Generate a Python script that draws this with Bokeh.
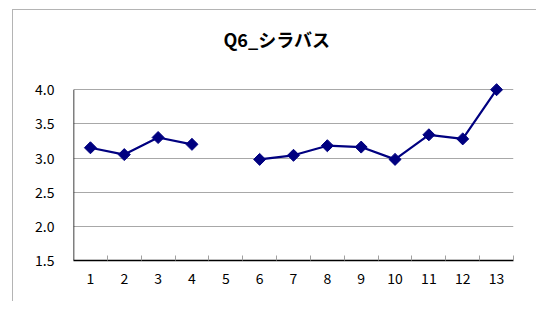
import numpy as np
from bokeh.plotting import figure
from bokeh.models import Range1d, FixedTicker, Title
from bokeh.embed import file_html
from bokeh.resources import INLINE

title_text = "Q6_シラバス"
categories = [1, 2, 3, 4, 5, 6, 7, 8, 9, 10, 11, 12, 13]
values = [3.15, 3.05, 3.30, 3.20, np.nan, 2.98, 3.04, 3.18, 3.16, 2.98, 3.34, 3.28, 4.00]
y_ticks = [1.5, 2.0, 2.5, 3.0, 3.5, 4.0]

FONT = "Noto Sans CJK JP"

p = figure(width=524, height=292, output_backend="svg", toolbar_location=None,
           x_range=Range1d(0.5, 13.5), y_range=Range1d(1.5, 4.12),
           min_border_left=60, min_border_right=24, min_border_top=71, min_border_bottom=42,
           title=title_text)
p.margin = (9, 0, 0, 12)
p.styles = {"border-left": "1px solid #b4b4b4", "border-top": "1px solid #b4b4b4"}
p.outline_line_color = None
p.background_fill_color = "white"
p.border_fill_color = "white"

p.title.align = "left"
p.title.offset = 150
p.title.text_font = FONT
p.title.text_font_style = "bold"
p.title.text_font_size = "18px"
p.title.text_color = "black"
p.title.standoff = 0

# invisible spacer between title and frame
p.add_layout(Title(text=" ", text_font_size="18px", standoff=8), "above")

# x axis
p.xaxis.ticker = FixedTicker(ticks=categories, minor_ticks=[c + 0.5 for c in categories])
p.xaxis.major_label_overrides = {c: str(c) for c in categories}
p.xaxis.major_tick_in = 0
p.xaxis.major_tick_out = 0
p.xaxis.minor_tick_in = 5
p.xaxis.minor_tick_out = 0
p.xaxis.minor_tick_line_color = "#a0a0a0"
p.xaxis.axis_line_color = "black"
p.xaxis.axis_line_width = 1.5
p.xaxis.major_label_standoff = 12
p.xaxis.major_label_text_font = FONT
p.xaxis.major_label_text_font_size = "14px"
p.xaxis.major_label_text_color = "black"
p.xgrid.grid_line_color = None

# y axis
p.yaxis.ticker = FixedTicker(ticks=y_ticks)
p.yaxis.major_label_overrides = {t: f"{t:.1f}" for t in y_ticks}
p.yaxis.major_tick_in = 0
p.yaxis.major_tick_out = 0
p.yaxis.minor_tick_line_color = None
p.yaxis.axis_line_color = None
p.yaxis.major_label_standoff = 19
p.yaxis.major_label_text_font = FONT
p.yaxis.major_label_text_font_size = "14px"
p.yaxis.major_label_text_color = "black"
p.ygrid.grid_line_color = "#a8a8a8"
p.ygrid.grid_line_width = 1.2

# left axis line only from 1.5 to 4.0
p.line([0.5, 0.5], [y_ticks[0], y_ticks[-1]], line_color="black", line_width=1.5)

p.line(categories, values, line_color="#000080", line_width=2.2)
p.scatter(categories, values, marker="square", angle=np.pi / 4, size=8.5,
          fill_color="#000080", line_color="#000080")

open("out.html", "w").write(file_html(p, INLINE))
